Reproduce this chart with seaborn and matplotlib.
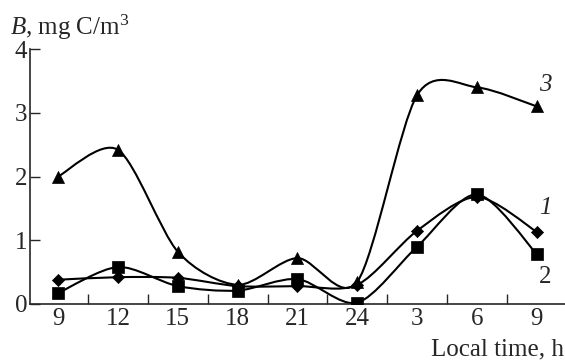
import numpy as np
import pandas as pd
import matplotlib
matplotlib.use("Agg")
import matplotlib.pyplot as plt
from matplotlib.path import Path
from matplotlib.patches import PathPatch
import seaborn as sns

# data
hours = ["9", "12", "15", "18", "21", "24", "3", "6", "9"]
series1 = [0.38, 0.42, 0.41, 0.28, 0.28, 0.30, 1.15, 1.68, 1.13]
series2 = [0.17, 0.58, 0.28, 0.21, 0.39, 0.02, 0.90, 1.72, 0.78]
series3 = [2.00, 2.42, 0.82, 0.30, 0.72, 0.35, 3.28, 3.40, 3.10]
names = ["1", "2", "3"]
yticks = [0, 1, 2, 3, 4]

sns.set_style("ticks")
plt.rcParams["font.family"] = ["Liberation Serif", "DejaVu Serif"]
plt.rcParams["mathtext.fontset"] = "custom"
plt.rcParams["mathtext.it"] = "Liberation Serif:italic"
plt.rcParams["mathtext.rm"] = "Liberation Serif"

fig = plt.figure(figsize=(5.65, 3.64), dpi=100)
ax = fig.add_axes([0.053, 0.165, 0.947, 0.70])

x = np.arange(len(hours))
rows = []
for name, vals in zip(names, [series1, series2, series3]):
    for xi, v in zip(x, vals):
        rows.append({"x": xi, "B": v, "series": name})
df = pd.DataFrame(rows)


def smooth_path(xs, ys, t=0.85):
    # Catmull-Rom style cubic Bezier through the points
    pts = np.column_stack([xs, ys]).astype(float)
    p = np.vstack([pts[0], pts, pts[-1]])
    verts = [pts[0]]
    codes = [Path.MOVETO]
    for i in range(1, len(p) - 2):
        c1 = p[i] + t * (p[i + 1] - p[i - 1]) / 6
        c2 = p[i + 1] - t * (p[i + 2] - p[i]) / 6
        verts += [c1, c2, p[i + 1]]
        codes += [Path.CURVE4] * 3
    return Path(verts, codes)


for name in names:
    d = df[df["series"] == name]
    ax.add_patch(PathPatch(smooth_path(d["x"], d["B"]), fill=False,
                           edgecolor="black", lw=1.5, zorder=2))

marker_map = {"1": ("D", 38), "2": ("s", 70), "3": ("^", 75)}
for name in names:
    d = df[df["series"] == name]
    m, sz = marker_map[name]
    sns.scatterplot(data=d, x="x", y="B", marker=m, color="black", edgecolor="black",
                    linewidth=0.5, s=sz, legend=False, ax=ax, zorder=3)

ax.set_xlim(-0.47, 8.47)
ax.set_ylim(0, 4)
ax.set_yticks(yticks)
ax.set_xticks(x)
ax.set_xticklabels(hours)
ax.set_xticks(np.arange(0.5, 8, 1), minor=True)
ax.tick_params(axis="x", which="major", length=0, labelsize=18, pad=3)
ax.tick_params(axis="x", which="minor", direction="in", length=7, width=1)
ax.tick_params(axis="y", direction="in", length=7, width=1, labelsize=18, pad=2)
for s in ["top", "right"]:
    ax.spines[s].set_visible(False)
for s in ["left", "bottom"]:
    ax.spines[s].set_linewidth(1.2)
ax.set_xlabel("")
ax.set_ylabel("")

ax.text(8.03, 3.44, "3", fontsize=18, style="italic", ha="left", va="center")
ax.text(8.03, 1.5, "1", fontsize=18, style="italic", ha="left", va="center")
ax.text(8.03, 0.42, "2", fontsize=18, ha="left", va="center")

fig.text(0.018, 0.905, r"$B$, mg C/m$^3$", fontsize=18, ha="left", va="baseline")
fig.text(0.998, 0.01, "Local time, h", fontsize=18, ha="right", va="bottom")

fig.savefig("out.png", dpi=100)
